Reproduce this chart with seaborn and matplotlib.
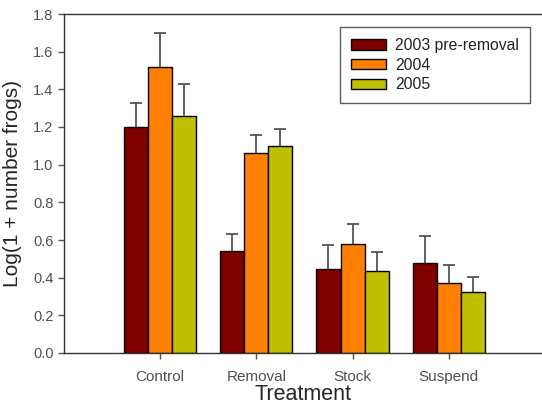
import numpy as np
import pandas as pd
import seaborn as sns
import matplotlib.pyplot as plt

# data
treatments = ['Control', 'Removal', 'Stock', 'Suspend']
years = ['2003 pre-removal', '2004', '2005']
means_2003 = [1.20, 0.54, 0.445, 0.48]
means_2004 = [1.52, 1.06, 0.58, 0.373]
means_2005 = [1.26, 1.10, 0.437, 0.325]
err_2003 = [0.125, 0.093, 0.128, 0.14]
err_2004 = [0.18, 0.095, 0.107, 0.094]
err_2005 = [0.168, 0.09, 0.097, 0.08]
colors = ['#800000', '#FF8000', '#C0C000']

# styling the graph
sns.set_style('white')
plt.rcParams['font.family'] = ['Liberation Sans', 'DejaVu Sans']

df = pd.DataFrame({
    'Treatment': treatments * 3,
    'Year': [y for y in years for _ in treatments],
    'Value': means_2003 + means_2004 + means_2005,
})
errs = [err_2003, err_2004, err_2005]

fig = plt.figure(figsize=(5.42, 4.08), dpi=100)
ax = fig.add_axes([64 / 542, 1 - 353 / 408, 1 - 64 / 542, 339 / 408])

sns.barplot(data=df, x='Treatment', y='Value', hue='Year', hue_order=years,
            palette=colors, width=0.75, gap=0, saturation=1, errorbar=None,
            edgecolor='black', linewidth=1, ax=ax)

# upper error bars only (hide the lower caps)
for cont, e in zip(ax.containers, errs):
    xs = [b.get_x() + b.get_width() / 2 for b in cont]
    ys = [b.get_height() for b in cont]
    _, caps, _ = ax.errorbar(xs, ys, yerr=[np.zeros(len(e)), e], fmt='none',
                             ecolor='#555555', elinewidth=1.3, capsize=4,
                             capthick=1.3, zorder=0.5)
    caps[0].set_visible(False)

ax.set_xlim(-1.0, 3.97)
ax.set_ylim(0, 1.8)
ax.set_yticks(np.arange(0, 1.81, 0.2))
ax.set_yticklabels([f'{v:.1f}' for v in np.arange(0, 1.81, 0.2)])
ax.set_xlabel('Treatment', fontsize=15.5, labelpad=0)
ax.set_ylabel('Log(1 + number frogs)', fontsize=15, labelpad=8)

for s in ['left', 'top', 'bottom']:
    ax.spines[s].set_color('#333333')
    ax.spines[s].set_linewidth(1)
ax.spines['right'].set_visible(False)
ax.tick_params(axis='both', direction='out', length=4, width=1, color='#555555',
               labelcolor='#505050', labelsize=10.5, left=True, bottom=True)
ax.tick_params(axis='x', pad=8, labelsize=11)

handles, labels = ax.get_legend_handles_labels()
for h in handles:
    h.set_edgecolor('black')
    h.set_linewidth(1)
leg = ax.legend(handles, labels, loc='upper right', bbox_to_anchor=(0.975, 0.962),
                fontsize=11.3, frameon=True, fancybox=False, edgecolor='#333333',
                handlelength=2.2, handleheight=0.65, handletextpad=0.6,
                labelspacing=0.3, borderpad=0.7, borderaxespad=0)
leg.get_frame().set_linewidth(1)
for t in leg.get_texts():
    t.set_color('#222222')

plt.savefig('out.png', dpi=100)
